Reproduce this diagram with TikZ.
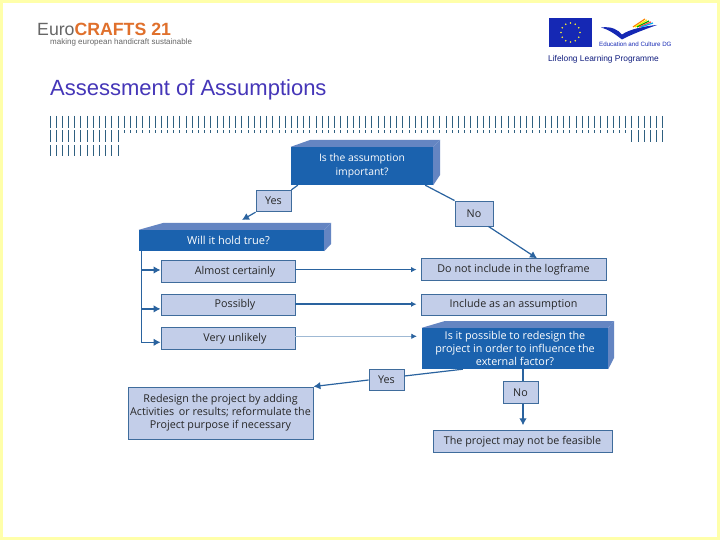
\documentclass[tikz,border=0pt]{standalone}
\usepackage{fontspec}
\usepackage{xcolor}
\usepackage{tikz}
\usetikzlibrary{arrows.meta,positioning}
\setmainfont{Open Sans}
\newfontfamily\arialfont{Liberation Sans}
\definecolor{framecol}{HTML}{FFFFAA}
\definecolor{darkblue}{HTML}{1B62AE}
\definecolor{sideblue}{HTML}{6485C2}
\definecolor{palebox}{HTML}{C3CEE9}
\definecolor{edgeblue}{HTML}{3F6C9C}
\definecolor{linkblue}{HTML}{2A639F}
\definecolor{titlecol}{HTML}{4536B8}
\definecolor{barcol}{HTML}{2F6080}
\definecolor{orangecol}{HTML}{E0702C}
\definecolor{greycol}{HTML}{666666}
\definecolor{eublue}{HTML}{1528B4}

\begin{document}
\begin{tikzpicture}[
  x=1pt, y=-1pt,
  node distance=11pt and 20pt,
  answer/.style={draw=edgeblue, fill=palebox, line width=0.9pt, inner sep=0pt,
                 minimum height=21.5pt, minimum width=134pt,
                 text=black!85, align=center, font=\fontsize{10.75}{12.8}\selectfont},
  choice/.style={answer, minimum width=35pt},
  offcentre/.style={execute at begin node=\hspace*{14pt}},
  question/.style={fill=darkblue, inner sep=0pt, align=center, text=white,
                   font=\fontsize{10.8}{13.2}\selectfont},
  face/.style={fill=sideblue},
  link/.style={draw=linkblue, line width=1.2pt},
  dep/.style={link, -{Latex[length=7pt,width=7.5pt]}},
  across/.style={link, shorten >=4pt, -{Latex[length=5.5pt,width=5.5pt,color=linkblue]}},
  bars/.style={barcol, line width=1pt},
  logotext/.style={anchor=base west, inner sep=0pt}
]
  \useasboundingbox (0,0) rectangle (720,540);
  \fill[framecol] (0,0) rectangle (720,540);
  \fill[white] (3,3) rectangle (717,537);

  \node[logotext, font=\arialfont\fontsize{17.7}{18}\selectfont] (euro) at (37,36)
    {\textcolor{greycol}{Euro}\textcolor{orangecol}{\textbf{CRAFTS 21}}};
  \node[logotext, text=greycol, font=\arialfont\fontsize{8}{8}\selectfont] (motto) at (50,45)
    {making european handicraft sustainable};
  \node[fill=eublue, minimum width=43pt, minimum height=29pt, inner sep=0pt] (flag) at (570.5,32.5) {};
  \foreach \a in {0,30,...,330}
    \fill[yellow!80!white] ([shift={(\a:9.5)}]flag.center) circle (0.8);
  \fill[eublue] (601,27.5) .. controls (612,26) and (618,30) .. (622,34.5)
    .. controls (630,29) and (645,26) .. (657,25) .. controls (643,30) and (630,35) .. (622,39.5)
    .. controls (616,35) and (610,30) .. (601,27.5);
  \foreach \c/\d in {orange/0,yellow/2,green!70!black/4,red!70!white/6,cyan/8}
    \draw[\c, line width=1.2pt] ({633+\d},27) -- ({645+\d},{19+\d*0.5});
  \node[logotext, text=eublue, font=\arialfont\fontsize{6.2}{6}\selectfont] (educ) at (599,47)
    {Education and Culture DG};
  \node[logotext, text=eublue!70!black, font=\arialfont\fontsize{8.4}{9}\selectfont] (llp) at (548,62)
    {Lifelong Learning Programme};

  \node[logotext, text=titlecol, font=\arialfont\fontsize{22}{24}\selectfont] (title) at (50,96)
    {Assessment of Assumptions};

  \foreach \i in {0,...,99}
    \draw[bars] ({50+6.19*\i},116) -- +(0,12);
  \foreach \i in {0,...,11} {
    \draw[bars] ({50+6.19*\i},130) -- +(0,12);
    \draw[bars] ({50+6.19*\i},145) -- +(0,11);
  }
  \foreach \i in {12,...,93}
    \draw[bars] ({50+6.19*\i},130) -- +(0,3.5);
  \foreach \i in {94,...,99}
    \draw[bars] ({50+6.19*\i},130) -- +(0,12);

  \node[question, minimum width=142pt, minimum height=38pt, font=\fontsize{10.35}{13.4}\selectfont] (important) at (362,166)
    {Is the assumption\\important?};
  \fill[face] (important.north west) -- (310,140) -- (440,140) -- (important.north east) -- cycle;
  \fill[face] (important.north east) -- (440,140) -- (440,175) -- (important.south east) -- cycle;

  \node[question, minimum width=185pt, minimum height=21pt, font=\fontsize{11}{13}\selectfont] (hold) at (231.5,240.5) {Will it hold true?\hspace*{6pt}};
  \fill[face] (hold.north west) -- (163,223) -- (331,223) -- (hold.north east) -- cycle;
  \fill[face] (hold.north east) -- (331,223) -- (331,244) -- (hold.south east) -- cycle;

  \node[answer, offcentre] (certain) at (228,271.5) {Almost certainly};
  \node[answer, offcentre] (possibly) [below=of certain] {Possibly};
  \node[answer, offcentre] (unlikely) [below=of possibly] {Very unlikely};

  \node[answer, minimum width=185pt] (exclude) at (513.5,269.5) {Do not include in the logframe};
  \node[answer, minimum width=185pt] (include) [below=13pt of exclude] {Include as an assumption};

  \node[question, minimum width=186pt, minimum height=41pt] (redesign) at (515,348.5)
    {Is it possible to redesign the\\project in order to influence the\\external factor?};
  \fill[face] (redesign.north west) -- (445,321) -- (614,321) -- (redesign.north east) -- cycle;
  \fill[face] (redesign.north east) -- (614,321) -- (614,358) -- (redesign.south east) -- cycle;

  \node[answer, minimum width=185pt, minimum height=52pt] (adding) at (220.5,413)
    {Redesign the project by adding\\Activities\, or results; reformulate the\\Project purpose if necessary};
  \node[answer, minimum width=179pt] (feasible) at (522.5,441.5) {The project may not be feasible};

  \node[choice] (yesa) at (273.5,201) {Yes};
  \node[choice, minimum width=38pt, minimum height=25pt] (noa) at (474,213.5) {No};
  \node[choice] (yesb) at (386.5,380) {Yes};
  \node[choice] (nob) at (520.5,392.5) {No};

  \coordinate (holdtop) at (242,220);

  \draw[link] ([xshift=7pt]important.south west) -- (yesa.north east);
  \draw[dep] (yesa.south west) -- (holdtop);
  \draw[link] ([xshift=-8pt]important.south east) -- (noa.north west);
  \draw[dep] ([xshift=-5pt]noa.south east) -- ([xshift=23.5pt]exclude.north);

  \draw[dep] ([xshift=3pt]hold.south west) |- ([yshift=1.5pt]certain.west);
  \draw[dep] ([xshift=3pt]hold.south west) |- ([yshift=-4pt]possibly.west);
  \draw[dep] ([xshift=3pt]hold.south west) |- ([yshift=-4pt]unlikely.west);

  \draw[across, line width=1pt] ([yshift=1.9pt]certain.east) -- ([yshift=1.9pt]certain.east -| exclude.west);
  \draw[across, line width=1.8pt] ([yshift=0.7pt]possibly.east) -- ([yshift=0.7pt]possibly.east -| include.west);
  \draw[across, shorten >=5pt, draw=linkblue!45, line width=0.8pt] ([yshift=2pt]unlikely.east) -- ([yshift=2pt]unlikely.east -| redesign.west);

  \draw[link] ([xshift=41pt]redesign.south west) -- ([yshift=4pt]yesb.east);
  \draw[dep] (yesb.west) -- (adding.north east);
  \draw[link] ([xshift=2.5pt]nob.north |- redesign.south) -- ([xshift=2.5pt]nob.north);
  \draw[dep] ([xshift=2.5pt]nob.south) -- ([xshift=2.5pt,yshift=5pt]nob.south |- feasible.north);
\end{tikzpicture}
\end{document}
